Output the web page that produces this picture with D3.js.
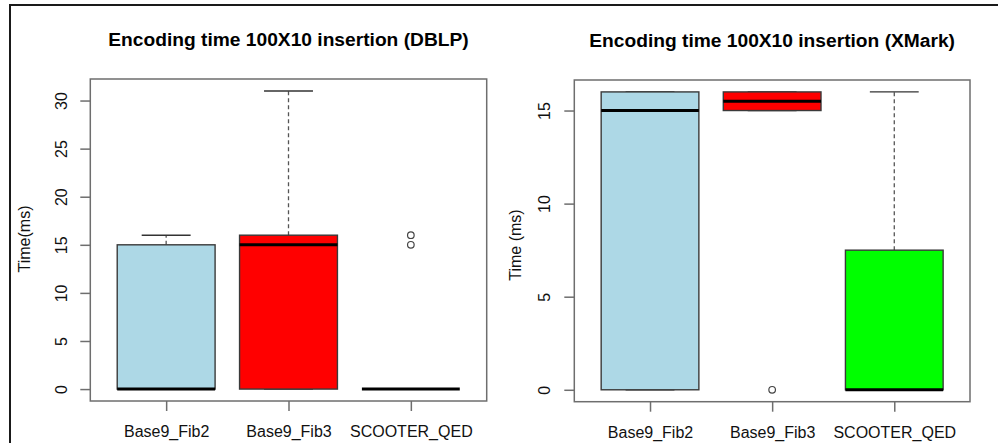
<!DOCTYPE html>
<html>
<head>
<meta charset="utf-8">
<script src="https://cdn.jsdelivr.net/npm/d3@7"></script>
<style>
  html, body { margin: 0; padding: 0; background: #fff; }
  svg { display: block; font-family: "Liberation Sans", Arial, sans-serif; }
</style>
</head>
<body>
<svg id="chart" width="998" height="443"></svg>
<script>
// ---- data ----
const categories = ["Base9_Fib2", "Base9_Fib3", "SCOOTER_QED"];
const boxColors = ["#ADD8E6", "#FF0000", "#00FF00"];

// [lower whisker, Q1, median, Q3, upper whisker]
const dblpStats = [[0, 0, 0, 15, 16], [0, 0, 15, 16, 31], [0, 0, 0, 0, 0]];
const dblpOutliers = [[], [], [15, 16]];
const dblpTicks = [0, 5, 10, 15, 20, 25, 30];

const xmarkStats = [[0, 0, 15, 16, 16], [15, 15, 15.5, 16, 16], [0, 0, 0, 7.5, 16]];
const xmarkOutliers = [[], [0], []];
const xmarkTicks = [0, 5, 10, 15];

const titles = ["Encoding time 100X10 insertion (DBLP)", "Encoding time 100X10 insertion (XMark)"];
const yLabels = ["Time(ms)", "Time (ms)"];

// ---- layout ----
const svg = d3.select("#chart");

// outer frame (left and top edges)
svg.append("line").attr("x1", 10).attr("y1", 5).attr("x2", 998).attr("y2", 5)
  .attr("stroke", "#1a1a1a").attr("stroke-width", 2);
svg.append("line").attr("x1", 10).attr("y1", 4).attr("x2", 10).attr("y2", 443)
  .attr("stroke", "#1a1a1a").attr("stroke-width", 2);

const panels = [
  { stats: dblpStats, outliers: dblpOutliers, ticks: dblpTicks, title: titles[0], ylab: yLabels[0],
    x0: 90.3, x1: 486.7, y0: 79, y1: 401, ymax: 31, titleY: 45.7, ylabX: 30, ylabY: 239,
    tickLabOff: 23, fills: boxColors },
  { stats: xmarkStats, outliers: xmarkOutliers, ticks: xmarkTicks, title: titles[1], ylab: yLabels[1],
    x0: 574.3, x1: 970, y0: 80, y1: 401.7, ymax: 16, titleY: 47.4, ylabX: 520.6, ylabY: 245,
    tickLabOff: 24, fills: boxColors }
];

panels.forEach(p => {
  const g = svg.append("g");
  const n = categories.length;
  // R-style 4% extension of ranges
  const xr = [0.5, n + 0.5];
  const xpad = (xr[1] - xr[0]) * 0.04;
  const x = d3.scaleLinear().domain([xr[0] - xpad, xr[1] + xpad]).range([p.x0, p.x1]);
  const ypad = p.ymax * 0.04;
  const y = d3.scaleLinear().domain([0 - ypad, p.ymax + ypad]).range([p.y1, p.y0]);
  const bw = 0.8;

  // title
  g.append("text").attr("x", (p.x0 + p.x1) / 2).attr("y", p.titleY)
    .attr("text-anchor", "middle").attr("font-weight", "bold").attr("font-size", 19.2)
    .attr("fill", "#000").text(p.title);

  // y axis label
  g.append("text").attr("transform", `translate(${p.ylabX},${p.ylabY}) rotate(-90)`)
    .attr("text-anchor", "middle").attr("font-size", 16).attr("fill", "#111").text(p.ylab);

  // y axis ticks
  const yAxis = d3.axisLeft(y).tickValues(p.ticks).tickSize(10).tickSizeOuter(0).tickFormat(d3.format("d"));
  const ya = g.append("g").attr("transform", `translate(${p.x0},0)`).call(yAxis);
  ya.select(".domain").remove();
  ya.selectAll(".tick line").attr("stroke", "#6e6e6e").attr("stroke-width", 1.5);
  ya.selectAll(".tick text")
    .attr("x", null).attr("dy", null)
    .attr("transform", `translate(${-p.tickLabOff},0) rotate(-90)`)
    .attr("text-anchor", "middle")
    .attr("font-size", 16).attr("fill", "#111").attr("font-family", "Liberation Sans, Arial, sans-serif");

  // x axis ticks
  const xAxis = d3.axisBottom(x).tickValues(d3.range(1, n + 1)).tickSize(10)
    .tickFormat(d => categories[d - 1]);
  const xa = g.append("g").attr("transform", `translate(0,${p.y1})`).call(xAxis);
  xa.select(".domain").remove();
  xa.selectAll(".tick line").attr("stroke", "#6e6e6e").attr("stroke-width", 1.5);
  xa.selectAll(".tick text").attr("y", 36.3).attr("dy", null)
    .attr("font-size", 16).attr("fill", "#111").attr("font-family", "Liberation Sans, Arial, sans-serif");

  // boxes
  p.stats.forEach((s, i) => {
    const cx = x(i + 1);
    const left = x(i + 1 - bw / 2), right = x(i + 1 + bw / 2);
    const capL = x(i + 1 - bw / 4), capR = x(i + 1 + bw / 4);
    const [lo, q1, med, q3, hi] = s;
    // whiskers (dashed)
    if (hi > q3) {
      g.append("line").attr("x1", cx).attr("x2", cx).attr("y1", y(q3)).attr("y2", y(hi))
        .attr("stroke", "#555").attr("stroke-width", 1.3).attr("stroke-dasharray", "4,3");
    }
    if (lo < q1) {
      g.append("line").attr("x1", cx).attr("x2", cx).attr("y1", y(q1)).attr("y2", y(lo))
        .attr("stroke", "#555").attr("stroke-width", 1.3).attr("stroke-dasharray", "4,3");
    }
    // caps
    [lo, hi].forEach(v => {
      g.append("line").attr("x1", capL).attr("x2", capR).attr("y1", y(v)).attr("y2", y(v))
        .attr("stroke", "#333").attr("stroke-width", 1.4);
    });
    // box
    g.append("rect").attr("x", left).attr("y", y(q3)).attr("width", right - left)
      .attr("height", Math.max(0, y(q1) - y(q3)))
      .attr("fill", p.fills[i]).attr("stroke", "#3a3a3a").attr("stroke-width", 1.4);
    // median
    g.append("line").attr("x1", left).attr("x2", right).attr("y1", y(med)).attr("y2", y(med))
      .attr("stroke", "#000").attr("stroke-width", 3);
    // outliers
    p.outliers[i].forEach(v => {
      g.append("circle").attr("cx", cx).attr("cy", y(v)).attr("r", 3.3)
        .attr("fill", "none").attr("stroke", "#444").attr("stroke-width", 1.2);
    });
  });

  // plot frame
  g.append("rect").attr("x", p.x0).attr("y", p.y0).attr("width", p.x1 - p.x0).attr("height", p.y1 - p.y0)
    .attr("fill", "none").attr("stroke", "#6e6e6e").attr("stroke-width", 1.5);
});
</script>
</body>
</html>
